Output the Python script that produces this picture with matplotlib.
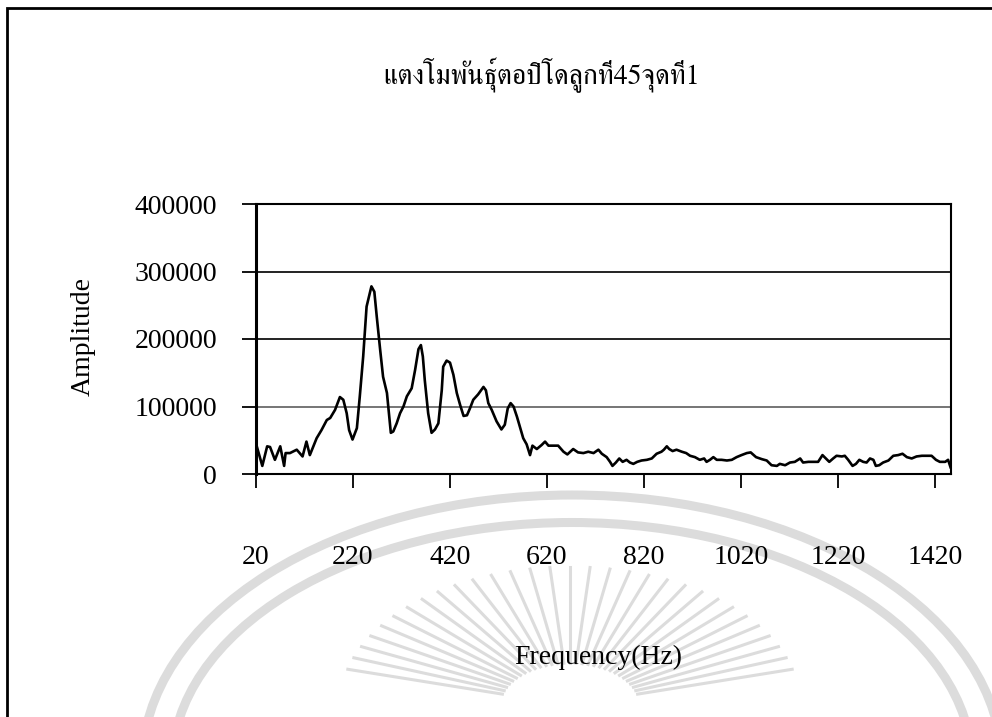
import numpy as np
import matplotlib
matplotlib.use("Agg")
import matplotlib.pyplot as plt
from matplotlib.patches import Rectangle, Arc

W, H = 992, 717

# spectrum read point by point: frequency (Hz) and amplitude
freq = [20, 33, 43, 49, 59, 70, 78, 81, 90, 104, 116, 124, 131, 145, 155, 166,
        173, 183, 193, 200, 207, 212, 219, 228, 234, 241, 248, 258, 264, 269,
        276, 282, 290, 298, 303, 310, 317, 324, 331, 341, 348, 355, 360, 364,
        368, 375, 382, 389, 396, 403, 406, 413, 420, 427, 434, 441, 448, 455,
        461, 468, 478, 489, 494, 499, 506, 516, 526, 533, 539, 545, 551, 558,
        564, 571, 578, 585, 590, 599, 609, 616, 623, 633, 643, 654, 662, 674,
        684, 695, 705, 716, 726, 733, 743, 750, 755, 762, 769, 776, 784, 791,
        798, 806, 815, 826, 836, 846, 856, 861, 867, 872, 879, 887, 898, 907,
        915, 925, 935, 944, 949, 956, 963, 970, 980, 991, 1001, 1011, 1021,
        1032, 1040, 1051, 1063, 1073, 1083, 1094, 1100, 1111, 1121, 1131, 1142,
        1148, 1159, 1169, 1179, 1188, 1195, 1202, 1210, 1217, 1228, 1234, 1241,
        1250, 1257, 1264, 1272, 1279, 1286, 1293, 1298, 1305, 1313, 1324, 1334,
        1344, 1353, 1362, 1372, 1382, 1393, 1403, 1413, 1422, 1430, 1441, 1447,
        1452]
amp_k = [45, 12, 41, 40, 21, 41, 12, 31, 31, 36, 26, 48, 28, 53, 65, 80,
         83, 95, 114, 110, 90, 65, 51, 68, 115, 174, 248, 278, 270, 233,
         184, 144, 120, 61, 63, 75, 90, 100, 115, 127, 154, 185, 191, 174,
         139, 90, 61, 66, 75, 124, 159, 168, 165, 147, 120, 102, 86, 87,
         97, 110, 118, 129, 124, 105, 95, 78, 66, 73, 97, 105, 100, 85,
         70, 53, 44, 28, 42, 37, 43, 48, 42, 42, 42, 33, 29, 37,
         32, 31, 33, 31, 36, 30, 25, 18, 12, 17, 23, 18, 21, 17,
         15, 18, 20, 21, 23, 30, 33, 36, 41, 37, 34, 36, 33, 31,
         27, 25, 21, 23, 18, 21, 25, 21, 21, 20, 21, 25, 28,
         31, 32, 25, 22, 20, 13, 12, 15, 13, 17, 18, 23,
         17, 18, 18, 18, 28, 23, 18, 23, 27, 26, 27, 21,
         12, 15, 21, 18, 17, 23, 21, 12, 13, 17, 20, 27,
         28, 30, 25, 23, 26, 27, 27, 27, 21, 18, 18, 21,
         10]
amp = np.array(amp_k) * 1000

xticks = [20, 220, 420, 620, 820, 1020, 1220, 1420]
yticks = [0, 100000, 200000, 300000, 400000]
title = "แตงโมพันธุ์ตอปิโดลูกที่45จุดที่1"

serif = "Liberation Serif"
thai = ["FreeSerif", "DejaVu Sans"]


def px(x, y):
    return x / W, 1 - y / H


fig = plt.figure(figsize=(W / 100, H / 100), dpi=100)

# faint seal printed behind the chart
seal = "#dcdcdc"
cx, cy = 572, 765
for a, b in [(860, 540), (800, 485)]:
    fig.add_artist(Arc(px(cx, cy), a / W, b / H, theta1=0, theta2=180,
                       color=seal, lw=6.5, transform=fig.transFigure, zorder=0))
rx, ry = 570, 705
for ang in np.linspace(15, 165, 31):
    t = np.radians(ang)
    r0, r1 = 70, 230
    xs = [rx + r0 * np.cos(t), rx + r1 * np.cos(t)]
    ys = [ry - 0.6 * r0 * np.sin(t), ry - 0.6 * r1 * np.sin(t)]
    fig.add_artist(plt.Line2D([x / W for x in xs], [1 - y / H for y in ys],
                              color=seal, lw=2.2, transform=fig.transFigure,
                              zorder=0))

# chart area border
fig.add_artist(Rectangle(px(7, 740), 1100 / W, 732 / H, fill=False, lw=2,
                         ec="black", transform=fig.transFigure, clip_on=False))

left, right, top, bottom = 256, 951, 204, 474
ax = fig.add_axes([left / W, 1 - bottom / H, (right - left) / W, (bottom - top) / H])
ax.patch.set_alpha(0)

ax.plot(freq, amp, color="black", lw=1.9, zorder=3)

ax.set_xlim(20, 1453)
ax.set_ylim(0, 400000)
ax.set_xticks(xticks)
ax.set_xticklabels([str(v) for v in xticks])
ax.set_yticks(yticks)
ax.set_yticklabels([str(v) for v in yticks])

for v, c in [(100000, "#6a6a6a"), (200000, "#111111"), (300000, "#111111")]:
    ax.axhline(v, color=c, lw=1.3, zorder=1)

for s in ax.spines.values():
    s.set_color("black")
    s.set_linewidth(1.5)
ax.spines["left"].set_linewidth(2.2)

ax.tick_params(axis="both", direction="out", length=10, width=1.3, color="black",
               labelsize=20, labelcolor="black")
ax.tick_params(axis="x", pad=41)
ax.tick_params(axis="y", pad=18)
for lab in ax.get_xticklabels() + ax.get_yticklabels():
    lab.set_fontfamily(serif)

fig.text(*px(83, 337), "Amplitude", rotation=90, ha="center", va="center",
         fontsize=20, family=serif)
fig.text(*px(598, 657), "Frequency(Hz)", ha="center", va="center",
         fontsize=20, family=serif)
fig.text(*px(542, 83), title, ha="center", va="baseline",
         fontsize=20, family=thai)

fig.savefig("out.png", dpi=100)
